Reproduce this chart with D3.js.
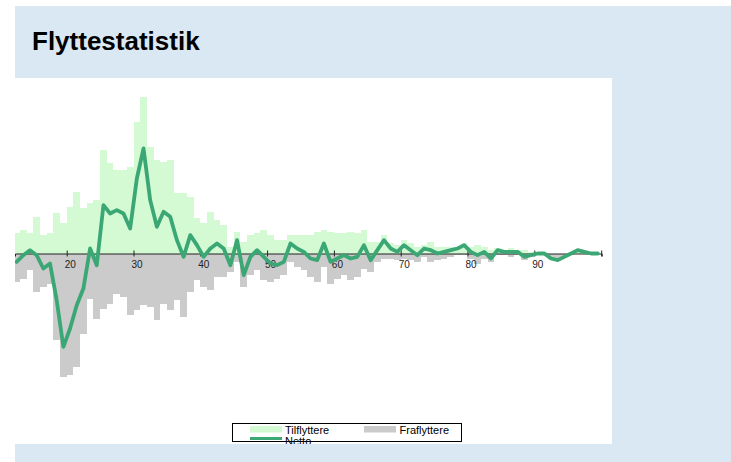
<!DOCTYPE html>
<html>
<head>
<meta charset="utf-8">
<script src="https://cdn.jsdelivr.net/npm/d3@7"></script>
<style>
html,body{margin:0;padding:0;background:#ffffff;}
svg{display:block;}
text{font-family:"Liberation Sans",Arial,Helvetica,sans-serif;}
</style>
</head>
<body>
<svg id="chart" width="731" height="462"></svg>
<script>
const title = "Flyttestatistik";
const ages = [12,13,14,15,16,17,18,19,20,21,22,23,24,25,26,27,28,29,30,31,32,33,34,35,36,37,38,39,40,41,42,43,44,45,46,47,48,49,50,51,52,53,54,55,56,57,58,59,60,61,62,63,64,65,66,67,68,69,70,71,72,73,74,75,76,77,78,79,80,81,82,83,84,85,86,87,88,89,90,91,92,93,94,95,96,97,98,99];
const tilflyttere = [12,14,12,22,11,12,24,18,28,37,27,30,32,62,54,50,50,52,79,94,64,56,55,56,36,36,34,21,18,25,20,17,4,13,7,11,12,14,11,8,8,11,11,11,11,13,14,13,12,12,13,12,14,7,7,11,6,5,8,6,4,5,7,4,4,4,4,6,4,5,4,2,3,2,3,2,2,1,1,1,0,0,0,1,2,1,0,0];
const fraflyttere = [17,15,10,23,20,18,52,74,73,68,48,27,39,33,30,24,26,37,34,31,32,40,30,34,28,38,23,16,20,22,14,14,11,5,20,13,10,16,17,15,13,5,8,10,14,17,8,18,15,13,16,14,9,11,5,3,3,4,3,4,5,2,5,4,3,2,1,1,3,6,3,5,1,1,2,1,4,2,1,1,3,4,2,1,0,0,0,0];
const netto = [-5,-1,2,-1,-9,-6,-28,-56,-45,-31,-21,3,-7,29,24,26,24,15,45,63,32,16,25,22,8,-2,11,5,-2,3,6,3,-7,8,-13,-2,2,-2,-6,-7,-5,6,3,1,-3,-4,6,-5,-3,-1,-3,-2,5,-4,2,8,3,1,5,2,-1,3,2,0,1,2,3,5,1,-1,1,-3,2,1,1,1,-2,-1,0,0,-3,-4,-2,0,2,1,0,0];
const xTicks = [20,30,40,50,60,70,80,90];
const legendLabels = ["Tilflyttere","Fraflyttere","Netto"];

const colIn = "#d4fad4", colOut = "#cbcbcb", colNet = "#3aa775";

const svg = d3.select("#chart");
// outer panel
svg.append("rect").attr("x",15).attr("y",6).attr("width",716).attr("height",456).attr("fill","#d9e8f3");
svg.append("text").attr("x",32).attr("y",50).attr("font-size",26).attr("font-weight","bold").attr("fill","#000").text(title);
// white plot panel
const pl = {x:15, y:78, w:597, h:366};
svg.append("rect").attr("x",pl.x).attr("y",pl.y).attr("width",pl.w).attr("height",pl.h).attr("fill","#fff");
svg.append("defs").append("clipPath").attr("id","clip").append("rect")
  .attr("x",pl.x).attr("y",pl.y).attr("width",pl.w).attr("height",pl.h);

const x = d3.scaleLinear().domain([12.26,100.09]).range([15,601.7]);
const y0 = 253.5;
const y = d3.scaleLinear().domain([-100,100]).range([y0+166.7,y0-166.7]);

const data = ages.map((a,i)=>({age:a, inn:tilflyttere[i], out:fraflyttere[i], net:netto[i]}));
const g = svg.append("g").attr("clip-path","url(#clip)");

g.append("g").selectAll("rect").data(data).join("rect")
  .attr("x",d=>x(d.age)).attr("width",d=>x(d.age+1)-x(d.age))
  .attr("y",d=>y(d.inn)).attr("height",d=>y(0)-y(d.inn))
  .attr("fill",colIn).attr("shape-rendering","crispEdges");
g.append("g").selectAll("rect").data(data).join("rect")
  .attr("x",d=>x(d.age)).attr("width",d=>x(d.age+1)-x(d.age))
  .attr("y",y(0)).attr("height",d=>y(-d.out)-y(0))
  .attr("fill",colOut).attr("shape-rendering","crispEdges");

// axis
const axis = d3.axisBottom(x).tickValues(xTicks).tickFormat(d3.format("d")).tickSizeOuter(0).tickSize(3);
const ax = g.append("g").attr("transform",`translate(0,${y(0)})`).call(axis);
ax.select(".domain").attr("stroke","#222").attr("stroke-width",1);
ax.selectAll(".tick line").attr("y1",-3).attr("y2",3).attr("stroke","#222");
ax.selectAll(".tick text").attr("font-size",10).attr("fill","#222").attr("font-family","Liberation Sans, Arial, sans-serif").attr("dx",3).attr("y",7);
g.append("line").attr("x1",x.range()[1]).attr("x2",x.range()[1]).attr("y1",y(0)-3).attr("y2",y(0)+3).attr("stroke","#222");

// netto line
const line = d3.line().x(d=>x(d.age+0.5)).y(d=>y(d.net));
g.append("path").datum(data).attr("d",line).attr("fill","none")
  .attr("stroke",colNet).attr("stroke-width",3.8).attr("stroke-linejoin","round").attr("stroke-linecap","round");

// legend
const lg = svg.append("g").attr("clip-path","url(#clip)");
lg.append("rect").attr("x",232.5).attr("y",423.5).attr("width",229).attr("height",18)
  .attr("fill","#fff").attr("stroke","#000").attr("stroke-width",1);
lg.append("rect").attr("x",250).attr("y",426).attr("width",32).attr("height",6.5).attr("fill",colIn);
lg.append("text").attr("x",285).attr("y",433.5).attr("font-size",11).attr("fill","#000").text(legendLabels[0]);
lg.append("rect").attr("x",364).attr("y",426).attr("width",32).attr("height",6.5).attr("fill",colOut);
lg.append("text").attr("x",399.5).attr("y",433.5).attr("font-size",11).attr("fill","#000").text(legendLabels[1]);
lg.append("line").attr("x1",250).attr("x2",282).attr("y1",438.5).attr("y2",438.5).attr("stroke",colNet).attr("stroke-width",3);
lg.append("text").attr("x",285).attr("y",445).attr("font-size",11).attr("fill","#000").text(legendLabels[2]);
</script>
</body>
</html>
